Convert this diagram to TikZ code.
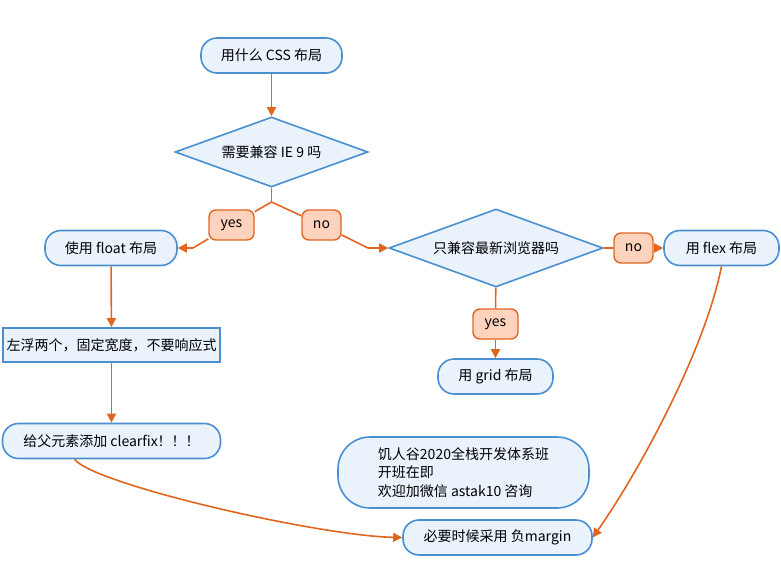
\documentclass[tikz,border=0pt]{standalone}
\usepackage{fontspec}
\setmainfont{Noto Sans CJK SC}
\usetikzlibrary{shapes.geometric,arrows.meta}

\definecolor{boxline}{HTML}{4A90D0}
\definecolor{boxfill}{HTML}{EAF2FB}
\definecolor{flowline}{HTML}{E0661E}
\definecolor{tagfill}{HTML}{FDD3BE}

\tikzset{
  every node/.style={font=\fontsize{14}{18.5}\selectfont},
  pill/.style={draw=boxline, fill=boxfill, line width=1.6pt, rounded corners=16pt, minimum height=35pt, inner sep=0pt},
  plainbox/.style={draw=boxline, fill=boxfill, line width=1.6pt, minimum height=34pt, inner sep=0pt},
  ask/.style={diamond, draw=boxline, fill=boxfill, line width=1.6pt, inner sep=0pt, aspect=2.75},
  tag/.style={draw=flowline, fill=tagfill, line width=1.4pt, rounded corners=7pt, minimum height=30pt, inner sep=0pt},
  flow/.style={draw=flowline, line width=1.6pt},
  flowarrow/.style={flow, -{Triangle[length=9pt,width=9pt]}},
}

\begin{document}
\begin{tikzpicture}[x=1pt,y=-1pt]
  \useasboundingbox (0,0) rectangle (781,562);

  % Nodes
  \node[pill, minimum width=141pt] (start) at (271.5,55.5) {用什么 CSS 布局};
  \node[ask, minimum width=193pt, minimum height=70pt] (ie) at (271.5,152) {需要兼容 IE 9 吗};
  \node[tag, minimum width=45pt] (yesa) at (231.5,225) {yes};
  \node[tag, minimum width=39pt] (noa) at (321.5,225) {no};
  \node[pill, minimum width=132pt] (float) at (111,248) {使用 float 布局};
  \node[ask, minimum width=214pt, minimum height=78pt] (modern) at (496,248) {只兼容最新浏览器吗};
  \node[tag, minimum width=39pt] (nob) at (633.5,248) {no};
  \node[pill, minimum width=115pt] (flex) at (721.5,248) {用 flex 布局};
  \node[tag, minimum width=45pt] (yesb) at (495.5,324) {yes};
  \node[pill, minimum width=115pt] (grid) at (495.5,376.5) {用 grid 布局};
  \node[plainbox, minimum width=217pt] (fixed) at (111.5,345) {左浮两个，固定宽度，不要响应式};
  \node[pill, minimum width=218pt] (clear) at (111.5,441) {给父元素添加 clearfix！！！};
  \node[pill, minimum width=251pt, minimum height=71pt, rounded corners=32pt, align=left] (ad) at (463.5,472.5)
    {饥人谷2020全栈开发体系班\\开班在即\\欢迎加微信 astak10 咨询};
  \node[pill, minimum width=189pt] (margin) at (497.5,537.5) {必要时候采用 负margin};

  % Bends
  \coordinate (split) at (271.5,202);
  \coordinate (bendyes) at (193,248);
  \coordinate (bendno) at (368,248);

  % Connectors
  \draw[flowarrow] (start) -- (ie);
  \draw[flow] (ie.south) -- (split);
  \draw[flow] (split) -- (yesa);
  \draw[flow] (yesa) -- (bendyes);
  \draw[flowarrow] (bendyes) -- (float);
  \draw[flow] (split) -- (noa);
  \draw[flow] (noa) -- (bendno);
  \draw[flowarrow] (bendno) -- (modern);
  \draw[flow] (modern) -- (nob);
  \draw[flowarrow] (nob) -- (flex);
  \draw[flow] (modern) -- (yesb);
  \draw[flowarrow] (yesb) -- (grid);
  \draw[flowarrow] (float) -- (fixed);
  \draw[flowarrow] (fixed) -- (clear);

  % Curves into the last box
  \draw[flowarrow] ([xshift=-37pt]clear.south) .. controls (95,485) and (320,536) .. (margin.west);
  \draw[flowarrow] (flex.south) .. controls (705,350) and (640,470) .. (margin.east);
\end{tikzpicture}
\end{document}
